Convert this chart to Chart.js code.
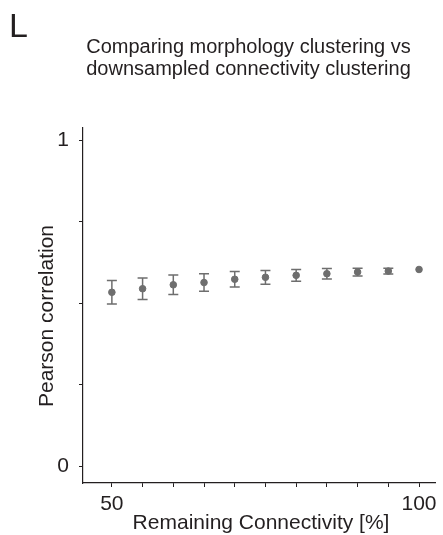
<!DOCTYPE html>
<html>
<head>
<meta charset="utf-8">
<script src="https://cdn.jsdelivr.net/npm/chart.js@4"></script>
<style>
    html, body { margin: 0; padding: 0; background: #fff; }
    #wrap { width: 443px; height: 535px; }
</style>
</head>
<body>
<div id="wrap"><canvas id="corrChart" width="443" height="535"></canvas></div>
<script>
// Remaining connectivity (%) vs Pearson correlation, mean +/- error
const connectivity = [50, 55, 60, 65, 70, 75, 80, 85, 90, 95, 100];
const meanCorr = [0.533, 0.544, 0.556, 0.563, 0.573, 0.579, 0.585, 0.590, 0.595, 0.598, 0.603];
const errCorr = [0.036, 0.033, 0.030, 0.027, 0.024, 0.021, 0.018, 0.016, 0.012, 0.009, 0];

const xTicks = [50, 55, 60, 65, 70, 75, 80, 85, 90, 95, 100];
const xTickLabels = { 50: '50', 100: '100' };
const yTicks = [0, 0.25, 0.5, 0.75, 1];
const yTickLabels = { 0: '0', 1: '1' };

const titleLines = ['Comparing morphology clustering vs', 'downsampled connectivity clustering'];
const panelLetter = 'L';
const xTitle = 'Remaining Connectivity [%]';
const yTitle = 'Pearson correlation';

const FONT = '"Liberation Sans", Arial, sans-serif';
const TEXT = '#231f20';
const MARK = '#6e6e6e';

// error bars go under the dots
const errorBars = {
    id: 'errorBars',
    beforeDatasetsDraw(chart) {
        const ctx = chart.ctx;
        const x = chart.scales.x, y = chart.scales.y;
        ctx.save();
        ctx.strokeStyle = MARK;
        ctx.lineWidth = 1.5;
        connectivity.forEach((c, i) => {
            if (!errCorr[i]) return;
            const px = x.getPixelForValue(c);
            const top = y.getPixelForValue(meanCorr[i] + errCorr[i]);
            const bot = y.getPixelForValue(meanCorr[i] - errCorr[i]);
            ctx.beginPath();
            ctx.moveTo(px, top); ctx.lineTo(px, bot);
            ctx.moveTo(px - 5, top); ctx.lineTo(px + 5, top);
            ctx.moveTo(px - 5, bot); ctx.lineTo(px + 5, bot);
            ctx.stroke();
        });
        ctx.restore();
    }
};

// panel letter, title and axis titles
const labels = {
    id: 'labels',
    afterDraw(chart) {
        const ctx = chart.ctx;
        const area = chart.chartArea;
        ctx.save();
        ctx.fillStyle = TEXT;
        ctx.textBaseline = 'alphabetic';

        ctx.font = '34px ' + FONT;
        ctx.textAlign = 'left';
        ctx.fillText(panelLetter, 9, 37);

        ctx.font = '20px ' + FONT;
        ctx.textAlign = 'center';
        ctx.fillText(titleLines[0], 248.5, 53);
        ctx.fillText(titleLines[1], 248.5, 75);

        ctx.font = '21px ' + FONT;
        ctx.textBaseline = 'middle';
        ctx.fillText(xTitle, (area.left + area.right) / 2 + 2, 523);

        ctx.translate(47, 316);
        ctx.rotate(-Math.PI / 2);
        ctx.fillText(yTitle, 0, 0);
        ctx.restore();
    }
};

new Chart(document.getElementById('corrChart'), {
    type: 'scatter',
    data: {
        datasets: [{
            data: connectivity.map((c, i) => ({ x: c, y: meanCorr[i] })),
            backgroundColor: MARK,
            borderColor: MARK,
            pointRadius: 3.3,
            pointHoverRadius: 3.3
        }]
    },
    options: {
        responsive: false,
        animation: false,
        layout: { padding: { left: 0, right: 8, top: 128, bottom: 0 } },
        plugins: {
            legend: { display: false },
            tooltip: { enabled: false }
        },
        scales: {
            x: {
                type: 'linear',
                min: 45.3,
                max: 102.6,
                afterFit(s) { s.height = 52; },
                afterBuildTicks(s) { s.ticks = xTicks.map(v => ({ value: v })); },
                border: { color: TEXT, width: 1.2 },
                grid: { drawOnChartArea: false, drawTicks: true, tickLength: 4, color: TEXT, tickWidth: 1 },
                ticks: {
                    autoSkip: false,
                    maxRotation: 0,
                    padding: 5,
                    color: TEXT,
                    font: { family: FONT, size: 21 },
                    callback: v => xTickLabels[v] || ''
                }
            },
            y: {
                min: -0.052,
                max: 1.037,
                afterFit(s) { s.width = 83; },
                afterBuildTicks(s) { s.ticks = yTicks.map(v => ({ value: v })); },
                border: { color: TEXT, width: 1.2 },
                grid: { drawOnChartArea: false, drawTicks: true, tickLength: 4, color: TEXT, tickWidth: 1 },
                ticks: {
                    padding: 10,
                    color: TEXT,
                    font: { family: FONT, size: 21 },
                    callback: v => yTickLabels[v] || ''
                }
            }
        }
    },
    plugins: [errorBars, labels]
});
</script>
</body>
</html>
